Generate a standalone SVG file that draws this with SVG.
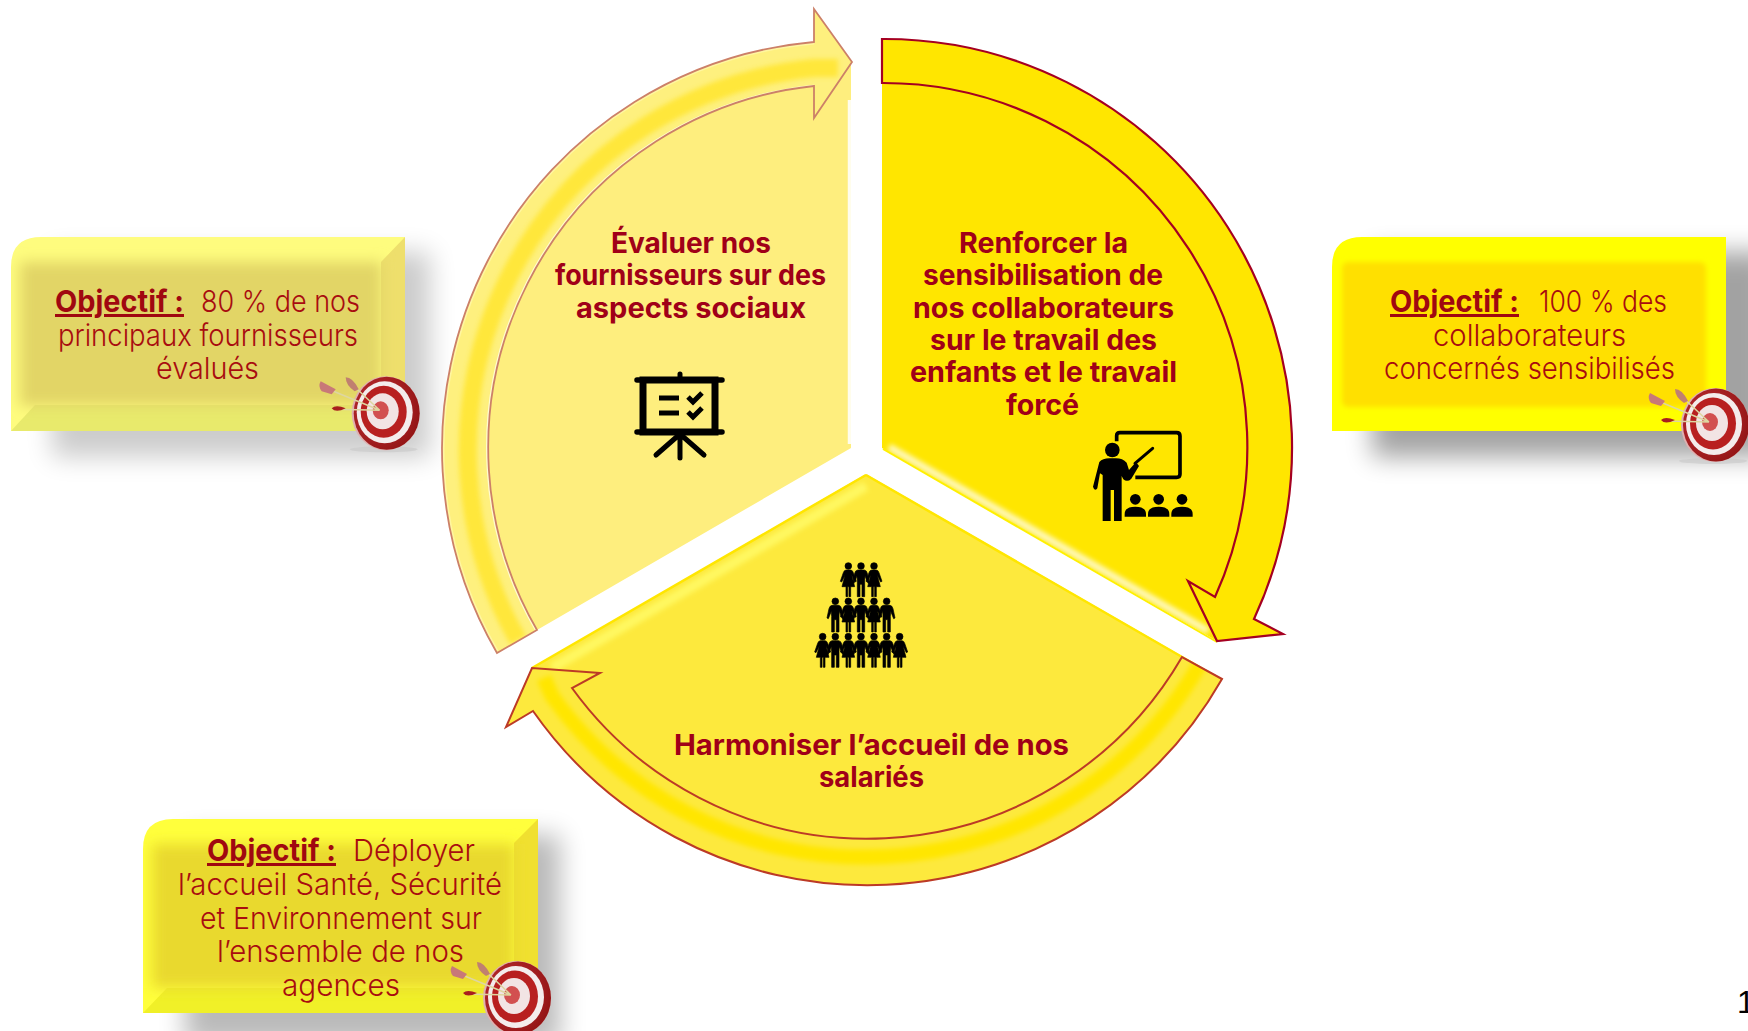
<svg xmlns="http://www.w3.org/2000/svg" xmlns:xlink="http://www.w3.org/1999/xlink" width="1748" height="1031" viewBox="0 0 1748 1031">
<style>
text{font-family:"Inter","Liberation Sans",sans-serif;fill:#A00018;text-anchor:start}
.m{font-size:28px;font-weight:700}
.b{font-size:30px;font-weight:300;fill:#A80C10}
.o{font-size:30px;font-weight:700;text-decoration:underline;fill:#A00810}
.k{fill:#000}
.ks{fill:none;stroke:#000;stroke-linecap:round}
</style>
<defs>
<filter id="s" x="-30%" y="-30%" width="160%" height="160%"><feGaussianBlur stdDeviation="13"/></filter>
<filter id="b5" x="-20%" y="-20%" width="140%" height="140%"><feGaussianBlur stdDeviation="7"/></filter>
<filter id="b2" x="-20%" y="-20%" width="140%" height="140%"><feGaussianBlur stdDeviation="2.500"/></filter>
<clipPath id="c1"><path d="M11,431V267Q11,237 41,237H405V431Z"/></clipPath>
<clipPath id="c2"><path d="M1332,431V267Q1332,237 1362,237H1726V431Z"/></clipPath>
<clipPath id="c3"><path d="M143,1013V849Q143,819 173,819H538V1013Z"/></clipPath>
<clipPath id="cbl"><path d="M497,653A408,408 0 0 1 814,42L814,9L852,62L814,118L814,86A364,364 0 0 0 537,630Z"/></clipPath>
<clipPath id="cbb"><path d="M1222,679A408,408 0 0 1 533,711L506,727L532,668L600,673L572,688A364,364 0 0 0 1182,657Z"/></clipPath>
<radialGradient id="tg" cx=".38" cy=".42" r=".7"><stop offset="0" stop-color="#C8333A"/><stop offset="1" stop-color="#8E1212"/></radialGradient>
<g id="target">
<ellipse cx="-2" cy="36" rx="34" ry="3" fill="#C8C8C8" opacity=".6"/>
<ellipse cx="0" cy="0" rx="34" ry="37" fill="#E0B0B0"/>
<ellipse cx="1" cy="0" rx="33" ry="36.500" fill="url(#tg)"/>
<ellipse cx="-1" cy="-1" rx="28" ry="31" fill="#F4ECEC"/>
<ellipse cx="-2" cy="-1.500" rx="23" ry="26" fill="#B82020"/>
<ellipse cx="-3" cy="-2" rx="16" ry="18" fill="#F2E4E4"/>
<ellipse cx="-5" cy="-3" rx="8" ry="9" fill="#D25050"/>
<path d="M-62,-26L-6,-3M-36,-31L-6,-3M-50,-4L-6,-3" stroke="#DED6A0" stroke-width="1.500" fill="none"/>
<path d="M-65,-32L-50,-24L-54,-19L-64,-22Q-68,-27 -65,-32Z" fill="#C87878"/>
<path d="M-40,-36Q-33,-36 -27,-24L-31,-22Q-40,-28 -40,-36Z" fill="#C08070"/>
<path d="M-54,-5Q-50,-9 -40,-5Q-50,0 -54,-5Z" fill="#A81E1E"/>
</g>
<g id="man"><circle cx="0" cy="0" r="10"/><path d="M-10,12H10Q17,13 19,22L25,50L21,52L12,30L11,45V92H3V55H-3V92H-11V45L-12,30L-21,52L-25,50L-19,22Q-17,13 -10,12Z"/></g>
<g id="woman"><circle cx="0" cy="0" r="10"/><path d="M-7,12H7Q13,13 15,20L24,46L20,48L10,28L19,62H7V92H2V62H-2V92H-7V62H-19L-10,28L-20,48L-24,46L-15,20Q-13,13 -7,12Z"/></g>
<g id="pupil"><circle cx="0" cy="0" r="16"/><path d="M-32,52V44Q-32,22 0,22Q32,22 32,44V52Z"/></g>
</defs>

<g id="shadows">
<rect x="52" y="252" width="378" height="205" fill="#000" opacity=".2" filter="url(#s)"/>
<rect x="1372" y="252" width="400" height="205" fill="#000" opacity=".36" filter="url(#s)"/>
<rect x="185" y="835" width="375" height="210" fill="#000" opacity=".27" filter="url(#s)"/>
</g>

<g id="sector-left">
<path d="M851,448L851,62L814,86A364,364 0 0 0 537,630Z" fill="#FEEE7E"/>
<path d="M849.500,444V100" stroke="#FFFFFF" stroke-width="3.500" opacity=".85" fill="none"/>
<text class="m" x="611" y="253" textLength="160" lengthAdjust="spacingAndGlyphs">Évaluer nos</text>
<text class="m" x="555" y="285" textLength="271" lengthAdjust="spacingAndGlyphs">fournisseurs sur des</text>
<text class="m" x="576" y="318" textLength="230" lengthAdjust="spacingAndGlyphs">aspects sociaux</text>
<g id="icon-board">
<path d="M637,380H722M637,432H722" class="ks" stroke-width="5.500"/>
<rect x="643" y="380" width="72" height="52" fill="none" stroke="#000" stroke-width="7"/>
<path d="M680,374V380M680,433V458M680,434L656,455M680,434L704,455" class="ks" stroke-width="5"/>
<path d="M659,398H679M659,413H679" stroke="#000" stroke-width="5" fill="none"/>
<path d="M688,397L693,402L702,393M688,412L693,417L702,408" fill="none" stroke="#000" stroke-width="5"/>
</g>
</g>

<g id="sector-right">
<path d="M882,448V40A408,408 0 0 1 1254,619L1283,634L1217,641Z" fill="#FFE600"/>
<path d="M888,446V90" stroke="#FFF23A" stroke-width="5" fill="none" filter="url(#b2)"/>
<path d="M889,447L1208,631" stroke="#FFFFFF" stroke-width="7" opacity=".75" fill="none" filter="url(#b2)"/>
<path d="M883,449L1217,642" stroke="#FFF000" stroke-width="2" fill="none"/>
<text class="m" x="959" y="253" textLength="169" lengthAdjust="spacingAndGlyphs">Renforcer la</text>
<text class="m" x="923" y="285" textLength="240" lengthAdjust="spacingAndGlyphs">sensibilisation de</text>
<text class="m" x="913" y="318" textLength="261" lengthAdjust="spacingAndGlyphs">nos collaborateurs</text>
<text class="m" x="930" y="350" textLength="227" lengthAdjust="spacingAndGlyphs">sur le travail des</text>
<text class="m" x="910" y="382" textLength="267" lengthAdjust="spacingAndGlyphs">enfants et le travail</text>
<text class="m" x="1006" y="415" textLength="73" lengthAdjust="spacingAndGlyphs">forcé</text>
<g id="icon-teacher" transform="translate(1080 420) scale(.3333)">
<path d="M110,64V47Q110,38 120,38H290Q300,38 300,48V162Q300,172 290,172H166" fill="none" stroke="#000" stroke-width="11"/>
<circle cx="97" cy="90" r="22"/>
<path d="M58,126Q68,115 88,115H108Q128,115 140,128L147,150L168,126L177,138L154,176Q142,188 130,178L125,168V303H102V210H92V303H68V165L60,160L52,205Q48,212 42,207L39,200Z"/>
<path d="M165,130L218,85" class="ks" stroke-width="9"/>
<use xlink:href="#pupil" href="#pupil" x="166" y="238"/>
<use xlink:href="#pupil" href="#pupil" x="236" y="238"/>
<use xlink:href="#pupil" href="#pupil" x="306" y="238"/>
</g>
</g>

<g id="sector-bottom">
<path d="M866,474L1222,679A408,408 0 0 1 533,711L506,727L532,668Z" fill="#FDE93D"/>
<path d="M866,486L552,668" stroke="#FFF860" stroke-width="10" fill="none" filter="url(#b2)"/>
<path d="M866,475L532,668M866,475L1222,680" stroke="#FFE600" stroke-width="2.500" fill="none"/>
<text class="m" x="674" y="755" textLength="395" lengthAdjust="spacingAndGlyphs">Harmoniser l&#8217;accueil de nos</text>
<text class="m" x="819" y="787" textLength="105" lengthAdjust="spacingAndGlyphs">salariés</text>
<g id="icon-people" transform="translate(805 555) scale(.3333)" stroke="#000" stroke-width="2">
<use xlink:href="#woman" href="#woman" x="130" y="33"/><use xlink:href="#man" href="#man" x="168" y="33"/><use xlink:href="#woman" href="#woman" x="207" y="33"/>
<use xlink:href="#man" href="#man" x="91" y="139"/><use xlink:href="#woman" href="#woman" x="130" y="139"/><use xlink:href="#man" href="#man" x="168" y="139"/><use xlink:href="#woman" href="#woman" x="207" y="139"/><use xlink:href="#man" href="#man" x="245" y="139"/>
<use xlink:href="#woman" href="#woman" x="53" y="245"/><use xlink:href="#man" href="#man" x="91" y="245"/><use xlink:href="#woman" href="#woman" x="130" y="245"/><use xlink:href="#man" href="#man" x="168" y="245"/><use xlink:href="#woman" href="#woman" x="207" y="245"/><use xlink:href="#man" href="#man" x="245" y="245"/><use xlink:href="#woman" href="#woman" x="284" y="245"/>
</g>
</g>

<g id="connectors" stroke-linejoin="miter">
<g id="arrow-left">
<path d="M497,653A408,408 0 0 1 814,42L814,9L852,62L814,118L814,86A364,364 0 0 0 537,630Z" fill="#FEF07E"/>
<g clip-path="url(#cbl)">
<path d="M518,640A384,384 0 0 1 814,68H838" fill="none" stroke="#FFE73A" stroke-width="18" filter="url(#b2)"/>
<path d="M536,630A364,364 0 0 1 814,86" fill="none" stroke="#FFFBD0" stroke-width="2.500"/>
<path d="M497,653A408,408 0 0 1 814,42" fill="none" stroke="#FFF6A0" stroke-width="5"/>
</g>
<path d="M497,653A408,408 0 0 1 814,42L814,9L852,62L814,118L814,86A364,364 0 0 0 537,630Z" fill="none" stroke="#CC8068" stroke-width="1.800"/>
</g>
<g id="arrow-right">
<path d="M882,39A408,408 0 0 1 1254,619L1283,634L1217,641L1188,581L1215,597A364,364 0 0 0 882,83Z" fill="#FFE600" stroke="#A50021" stroke-width="2.200"/>
</g>
<g id="arrow-bottom">
<path d="M1222,679A408,408 0 0 1 533,711L506,727L532,668L600,673L572,688A364,364 0 0 0 1182,657Z" fill="#FDE93D"/>
<g clip-path="url(#cbb)">
<path d="M1200,664A386,386 0 0 1 552,696L544,678" fill="none" stroke="#FFE600" stroke-width="15" filter="url(#b2)"/>
</g>
<path d="M1222,679A408,408 0 0 1 533,711L506,727L532,668L600,673L572,688A364,364 0 0 0 1182,657Z" fill="none" stroke="#BC3A26" stroke-width="2"/>
</g>
</g>

<g id="box-left">
<path d="M11,431V267Q11,237 41,237H405V431Z" fill="#FEFC7E"/>
<g clip-path="url(#c1)">
<path d="M11,431L35,405H381L405,431Z" fill="#E8EA6C"/>
<path d="M405,237L381,262V405L405,431Z" fill="#EEDF6C"/>
<rect x="20" y="262" width="362" height="144" fill="#E2D566" filter="url(#b5)"/>
</g>
<text class="o" x="55" y="312" textLength="129" lengthAdjust="spacingAndGlyphs">Objectif :</text>
<text class="b" x="201" y="312" textLength="159" lengthAdjust="spacingAndGlyphs">80 % de nos</text>
<text class="b" x="58" y="346" textLength="300" lengthAdjust="spacingAndGlyphs">principaux fournisseurs</text>
<text class="b" x="156" y="379" textLength="103" lengthAdjust="spacingAndGlyphs">évalués</text>
<use xlink:href="#target" href="#target" x="385.700" y="413.300"/>
</g>

<g id="box-right">
<path d="M1332,431V267Q1332,237 1362,237H1726V431Z" fill="#FFFF00"/>
<g clip-path="url(#c2)">
<rect x="1342" y="262" width="364" height="145" rx="6" fill="#FFE000" filter="url(#b2)"/>
</g>
<text class="o" x="1390" y="312" textLength="129" lengthAdjust="spacingAndGlyphs">Objectif :</text>
<text class="b" x="1539" y="312" textLength="128" lengthAdjust="spacingAndGlyphs">100 % des</text>
<text class="b" x="1433" y="346" textLength="193" lengthAdjust="spacingAndGlyphs">collaborateurs</text>
<text class="b" x="1384" y="379" textLength="291" lengthAdjust="spacingAndGlyphs">concernés sensibilisés</text>
<use xlink:href="#target" href="#target" x="1715" y="425"/>
</g>

<g id="box-bottom">
<path d="M143,1013V849Q143,819 173,819H538V1013Z" fill="#FFFF3C"/>
<g clip-path="url(#c3)">
<path d="M143,1013L167,988H514L538,1013Z" fill="#F0F028"/>
<path d="M538,819L514,843V988L538,1013Z" fill="#F0E030"/>
<rect x="152" y="844" width="363" height="144" fill="#E9D92E" filter="url(#b5)"/>
</g>
<text class="o" x="207" y="861" textLength="129" lengthAdjust="spacingAndGlyphs">Objectif :</text>
<text class="b" x="353" y="861" textLength="122" lengthAdjust="spacingAndGlyphs">Déployer</text>
<text class="b" x="178" y="895" textLength="324" lengthAdjust="spacingAndGlyphs">l&#8217;accueil Santé, Sécurité</text>
<text class="b" x="200" y="929" textLength="282" lengthAdjust="spacingAndGlyphs">et Environnement sur</text>
<text class="b" x="217" y="962" textLength="247" lengthAdjust="spacingAndGlyphs">l&#8217;ensemble de nos</text>
<text class="b" x="282" y="996" textLength="118" lengthAdjust="spacingAndGlyphs">agences</text>
<use xlink:href="#target" href="#target" x="517" y="998"/>
</g>

<text x="1737" y="1013" style="font-family:'Liberation Sans',sans-serif;font-size:32px;fill:#000">1</text>
</svg>
